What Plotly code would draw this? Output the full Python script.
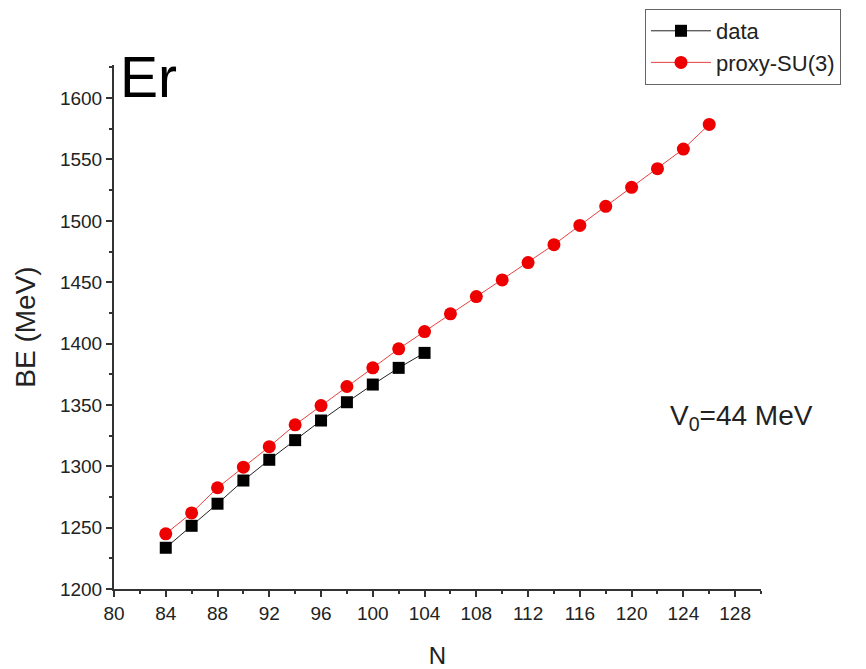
import plotly.graph_objects as go

# Neutron numbers and binding energies (MeV)
n_data = [84, 86, 88, 90, 92, 94, 96, 98, 100, 102, 104]
be_data = [1233.6, 1251.5, 1269.5, 1288.4, 1305.3, 1321.3, 1337.3, 1352.2, 1366.6, 1380.2, 1392.4]

n_proxy = [84, 86, 88, 90, 92, 94, 96, 98, 100, 102, 104, 106, 108, 110, 112,
           114, 116, 118, 120, 122, 124, 126]
be_proxy = [1245.0, 1262.0, 1282.5, 1299.3, 1316.0, 1333.8, 1349.5, 1365.0, 1380.2,
            1395.7, 1409.8, 1424.2, 1438.3, 1451.9, 1466.0, 1480.6, 1496.3, 1511.8,
            1527.3, 1542.5, 1558.5, 1578.6]

x_ticks = [80, 84, 88, 92, 96, 100, 104, 108, 112, 116, 120, 124, 128]
y_ticks = [1200, 1250, 1300, 1350, 1400, 1450, 1500, 1550, 1600]

FONT = "Liberation Sans, Arial, sans-serif"
AX = "#333333"

fig = go.Figure()
fig.add_trace(go.Scatter(
    x=n_data, y=be_data, name="data", mode="lines+markers",
    line=dict(color="#222222", width=1),
    marker=dict(symbol="square", size=12, color="black"),
))
fig.add_trace(go.Scatter(
    x=n_proxy, y=be_proxy, name="proxy-SU(3)", mode="lines+markers",
    line=dict(color="#e84040", width=1),
    marker=dict(symbol="circle", size=13, color="#ee0000"),
))

axis_common = dict(
    showline=True, linecolor=AX, linewidth=2, mirror=False,
    ticks="outside", ticklen=6, tickwidth=1.5, tickcolor=AX,
    showgrid=False, zeroline=False,
    tickfont=dict(family=FONT, size=19, color="#222"),
    ticklabelstandoff=0,
)

fig.update_xaxes(
    range=[80, 130], tickmode="array", tickvals=x_ticks,
    ticktext=[str(v) for v in x_ticks],
    minor=dict(dtick=2, tick0=80, ticks="outside", ticklen=3, tickcolor=AX, tickwidth=1.5),
    title=dict(text="N", font=dict(family=FONT, size=24, color="#222"), standoff=25),
    **axis_common,
)
fig.update_yaxes(
    range=[1200, 1627], tickmode="array", tickvals=y_ticks,
    ticktext=[str(v) for v in y_ticks],
    minor=dict(dtick=25, tick0=1200, ticks="outside", ticklen=3, tickcolor=AX, tickwidth=1.5),
    title=dict(text="BE (MeV)", font=dict(family=FONT, size=28, color="#222"), standoff=16),
    **axis_common,
)

fig.add_annotation(
    text="Er", xref="paper", yref="paper", x=0.006, y=0.978,
    xanchor="left", yanchor="middle", showarrow=False,
    font=dict(family=FONT, size=57, color="black"),
)
fig.add_annotation(
    text="V<sub>0</sub>=44 MeV", xref="paper", yref="paper", x=0.9706, y=0.327,
    xanchor="center", yanchor="middle", showarrow=False,
    font=dict(family=FONT, size=28, color="#222"),
)

# The page body has an 8px margin, so the figure is slightly smaller than the window
fig.update_layout(
    width=858, height=661,
    margin=dict(l=106, r=105, t=57, b=80, autoexpand=False),
    paper_bgcolor="white", plot_bgcolor="white",
    showlegend=True,
    legend=dict(
        x=0.8207, y=1.1069, xanchor="left", yanchor="top",
        bgcolor="white", bordercolor="#666", borderwidth=1,
        font=dict(family=FONT, size=22, color="#222"),
        tracegroupgap=0, itemwidth=60,
    ),
)

fig.write_html("out.html")
